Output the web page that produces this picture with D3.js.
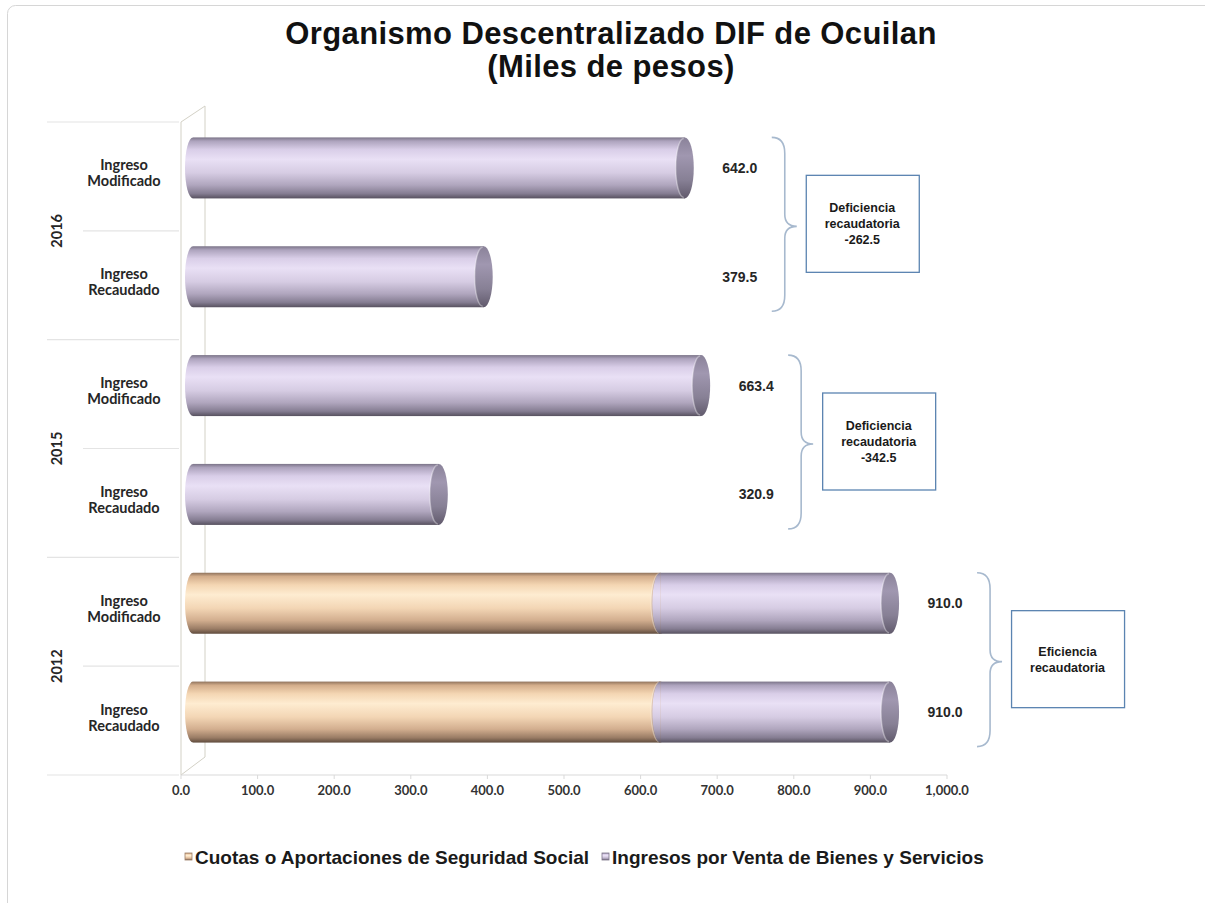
<!DOCTYPE html>
<html>
<head>
<meta charset="utf-8">
<script src="https://cdn.jsdelivr.net/npm/d3@7"></script>
<style>
  html, body { margin: 0; padding: 0; background: #fff; }
  svg { display: block; }
</style>
</head>
<body>
<script>
// Chart values
const rowYear = ["2016", "2016", "2015", "2015", "2012", "2012"];
const rowConcepto = ["Ingreso Modificado", "Ingreso Recaudado",
                     "Ingreso Modificado", "Ingreso Recaudado",
                     "Ingreso Modificado", "Ingreso Recaudado"];
// Cuotas o Aportaciones de Seguridad Social
const cuotasSS = [0, 0, 0, 0, 610.0, 610.0];
// Ingresos por Venta de Bienes y Servicios
const ventaBienes = [642.0, 379.5, 663.4, 320.9, 300.0, 300.0];
const seriesNames = ["Cuotas o Aportaciones de Seguridad Social",
                     "Ingresos por Venta de Bienes y Servicios"];
const groupYears = ["2016", "2015", "2012"];
const groupNotes = [["Deficiencia", "recaudatoria"],
                    ["Deficiencia", "recaudatoria"],
                    ["Eficiencia", "recaudatoria"]];
const xTicks = [0, 100, 200, 300, 400, 500, 600, 700, 800, 900, 1000];

const width = 1205;
const height = 903;
const fmt = v => d3.format(",.1f")(v).replace("\u2212", "-");

// 3D depth shift of the bars and cylinder size
const DX = 12, DY = -8.5, BAR_H = 61, RX = 8;

const svg = d3.select("body").append("svg")
    .attr("width", width)
    .attr("height", height);

// Outer chart frame
svg.append("rect")
    .attr("x", 7.5).attr("y", 5.5)
    .attr("width", 1230).attr("height", 930)
    .attr("rx", 8)
    .attr("fill", "#fff")
    .attr("stroke", "#d6d6d6");

// Gradients for the cylinders
const defs = svg.append("defs");
function vGrad(id, stops) {
    const g = defs.append("linearGradient").attr("id", id)
        .attr("x1", 0).attr("y1", 0).attr("x2", 0).attr("y2", 1);
    stops.forEach(s => g.append("stop").attr("offset", s[0]).attr("stop-color", s[1]));
}
vGrad("gPurple", [[0, "#7b7488"], [0.06, "#ada3bd"], [0.2, "#d9cee8"], [0.36, "#e9e0f5"],
                  [0.58, "#d6cce3"], [0.78, "#b0a6be"], [0.92, "#857d92"], [1, "#57515f"]]);
vGrad("gOrange", [[0, "#8f735d"], [0.06, "#d3ad8b"], [0.2, "#f4d6b3"], [0.36, "#feecd1"],
                  [0.58, "#f3d6b5"], [0.78, "#d2ae8f"], [0.92, "#9a7c65"], [1, "#5f4b3d"]]);
vGrad("gPurpleCap", [[0, "#8a8299"], [0.3, "#a097b0"], [0.7, "#878095"], [1, "#615a6c"]]);
vGrad("gOrangeCap", [[0, "#a88a70"], [0.3, "#d9b797"], [0.7, "#c09f82"], [1, "#7a6250"]]);

// Title
const titleFont = "bold 31px 'Liberation Sans', Arial, sans-serif";
svg.append("text")
    .attr("x", 611).attr("y", 44)
    .attr("text-anchor", "middle")
    .style("font", titleFont)
    .style("letter-spacing", "0.4px")
    .attr("fill", "#111")
    .text("Organismo Descentralizado DIF de Ocuilan");
svg.append("text")
    .attr("x", 611).attr("y", 77)
    .attr("text-anchor", "middle")
    .style("font", titleFont)
    .style("letter-spacing", "0.4px")
    .attr("fill", "#111")
    .text("(Miles de pesos)");

// Scales
const x = d3.scaleLinear().domain([0, 1000]).range([181, 947]);
const y = d3.scaleBand().domain(d3.range(rowYear.length)).range([122, 775]);

// 3D side wall
const wall = svg.append("g").attr("fill", "none").attr("stroke", "#d3d1c6").attr("stroke-width", 1);
wall.append("path")
    .attr("d", `M${x(0)},${y(0)} L${x(0) + 24},${y(0) - 16} L${x(0) + 24},${y.range()[1] - 18}` +
               ` L${x(0)},${y.range()[1]} Z`);

// Category axis: separators
const sep = svg.append("g").attr("stroke", "#e4e4e4").attr("stroke-width", 1.2);
d3.range(0, rowYear.length + 1, 2).forEach(i => {
    const yy = i < rowYear.length ? y(i) : y.range()[1];
    sep.append("line").attr("x1", 47).attr("x2", x(0) - 2).attr("y1", yy).attr("y2", yy);
});
d3.range(1, rowYear.length, 2).forEach(i => {
    sep.append("line").attr("x1", 83).attr("x2", x(0) - 2).attr("y1", y(i)).attr("y2", y(i));
});

// Category labels
const catFont = "bold 14.5px Lato, 'Open Sans', sans-serif";
rowConcepto.forEach((c, i) => {
    const words = c.split(" ");
    const t = svg.append("text")
        .attr("text-anchor", "middle")
        .style("font", catFont)
        .attr("fill", "#262626");
    words.forEach((w, k) => {
        t.append("tspan")
            .attr("x", 124)
            .attr("y", y(i) + y.bandwidth() / 2 - 3 + (k - 0.5) * 16 + 5)
            .text(w);
    });
});
groupYears.forEach((yr, gi) => {
    const cy = y(gi * 2) + y.bandwidth();
    svg.append("text")
        .attr("transform", `translate(62,${cy}) rotate(-90)`)
        .attr("text-anchor", "middle")
        .style("font", catFont)
        .attr("fill", "#262626")
        .text(yr);
});

// Value axis
const axisY = y.range()[1];
svg.append("line")
    .attr("x1", x(0)).attr("x2", x(1000))
    .attr("y1", axisY).attr("y2", axisY)
    .attr("stroke", "#d9d9d9");
const ticks = svg.append("g");
xTicks.forEach(v => {
    ticks.append("line")
        .attr("x1", x(v)).attr("x2", x(v))
        .attr("y1", axisY).attr("y2", axisY + 4)
        .attr("stroke", "#d9d9d9");
    ticks.append("text")
        .attr("x", x(v)).attr("y", axisY + 20)
        .attr("text-anchor", "middle")
        .style("font", "bold 13px Lato, sans-serif")
        .attr("fill", "#333")
        .text(fmt(v));
});

// Cylinder bars
const stacks = rowYear.map((_, i) => [
    { s: 0, e: cuotasSS[i], body: "gOrange", cap: "gOrangeCap" },
    { s: cuotasSS[i], e: cuotasSS[i] + ventaBienes[i], body: "gPurple", cap: "gPurpleCap" }
].filter(d => d.e > d.s));

const bars = svg.append("g").attr("transform", `translate(${DX},0)`);
stacks.forEach((segs, i) => {
    const top = y(i) + y.bandwidth() / 2 + DY - BAR_H / 2;
    const g = bars.append("g").attr("transform", `translate(0,${top})`);
    const r = BAR_H / 2;
    segs.forEach(d => {
        const x0 = x(d.s), x1 = x(d.e);
        // rounded back end
        g.append("path")
            .attr("d", `M${x0},0 A${RX},${r} 0 0 0 ${x0},${BAR_H} Z`)
            .attr("fill", `url(#${d.body})`);
        g.append("rect")
            .attr("x", x0).attr("y", 0)
            .attr("width", x1 - x0).attr("height", BAR_H)
            .attr("fill", `url(#${d.body})`);
        // end face
        g.append("ellipse")
            .attr("cx", x1).attr("cy", r)
            .attr("rx", RX + 1).attr("ry", r)
            .attr("fill", `url(#${d.cap})`);
        g.append("path")
            .attr("d", `M${x1 - 1},1 A${RX},${r - 1} 0 0 0 ${x1 - 1},${BAR_H - 1}`)
            .attr("fill", "none")
            .attr("stroke", "#ffffff")
            .attr("stroke-opacity", 0.35)
            .attr("stroke-width", 1.5);
    });
});

// Total labels, braces and note boxes per year
const labelFont = "bold 14px 'Liberation Sans', Arial, sans-serif";
groupYears.forEach((yr, gi) => {
    const rows = [gi * 2, gi * 2 + 1];
    const totals = rows.map(i => cuotasSS[i] + ventaBienes[i]);
    const lx = x(d3.max(totals)) + DX + RX + 47;
    rows.forEach((i, k) => {
        svg.append("text")
            .attr("x", lx)
            .attr("y", y(i) + y.bandwidth() / 2 + DY + 5)
            .attr("text-anchor", "middle")
            .style("font", labelFont)
            .attr("fill", "#262626")
            .text(fmt(totals[k]));
    });

    const topY = y(rows[0]) + y.bandwidth() / 2 + DY - BAR_H / 2;
    const botY = y(rows[1]) + y.bandwidth() / 2 + DY + BAR_H / 2 + 4;
    const midY = (topY + botY) / 2 + 2;
    const b0 = lx + 32, b1 = lx + 45, b2 = lx + 57;
    svg.append("path")
        .attr("d", `M${b0},${topY} Q${b1},${topY} ${b1},${topY + 16} L${b1},${midY - 12}` +
                   ` Q${b1},${midY} ${b2},${midY} Q${b1},${midY} ${b1},${midY + 12}` +
                   ` L${b1},${botY - 16} Q${b1},${botY} ${b0},${botY}`)
        .attr("fill", "none")
        .attr("stroke", "#a7b9ce")
        .attr("stroke-width", 1.6);

    const bw = 113, bh = 97;
    const bx = b2 + 9, by = midY - 3 - bh / 2;
    svg.append("rect")
        .attr("x", bx + 0.5).attr("y", by + 0.5)
        .attr("width", bw).attr("height", bh)
        .attr("fill", "#fff")
        .attr("stroke", "#5b84b1")
        .attr("stroke-width", 1.3);
    const lines = groupNotes[gi].slice();
    if (totals[1] - totals[0] !== 0) lines.push(fmt(totals[1] - totals[0]));
    const t = svg.append("text")
        .attr("text-anchor", "middle")
        .style("font", "bold 12.5px 'Liberation Sans', Arial, sans-serif")
        .attr("fill", "#1a1a1a");
    lines.forEach((ln, k) => {
        t.append("tspan")
            .attr("x", bx + bw / 2)
            .attr("y", by + bh / 2 + 5 + (k - (lines.length - 1) / 2) * 16)
            .text(ln);
    });
});

// Legend
const legend = svg.append("g");
const legX = [185, 602];
seriesNames.forEach((name, k) => {
    legend.append("rect")
        .attr("x", legX[k]).attr("y", 853)
        .attr("width", 7).attr("height", 7)
        .attr("fill", `url(#${k === 0 ? "gOrange" : "gPurple"})`)
        .attr("stroke", k === 0 ? "#9c7e66" : "#7d768a")
        .attr("stroke-width", 0.8);
    legend.append("text")
        .attr("x", legX[k] + 10).attr("y", 864)
        .style("font", "bold 19px 'Liberation Sans', Arial, sans-serif")
        .attr("fill", "#1a1a1a")
        .text(name);
});
</script>
</body>
</html>
